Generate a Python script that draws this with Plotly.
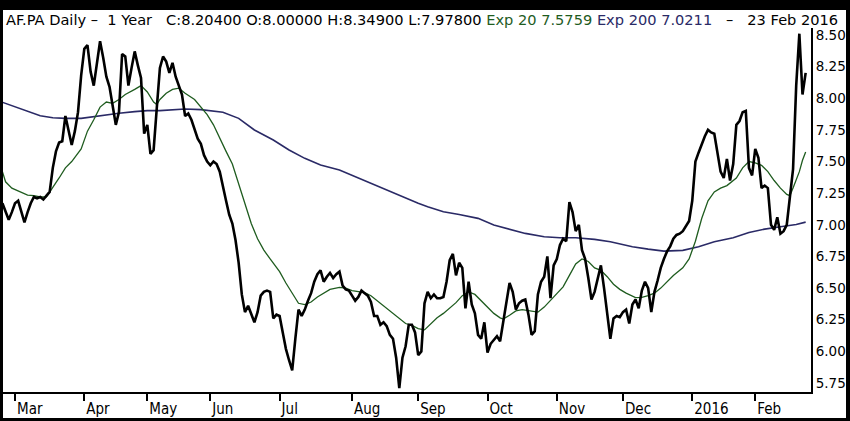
import pandas as pd
import plotly.graph_objects as go

# Euronext closing days inside the window
holidays = ["2015-04-03", "2015-04-06", "2015-05-01", "2015-12-25", "2016-01-01"]
dates = [d for d in pd.bdate_range("2015-02-24", "2016-02-23")
         if d.strftime("%Y-%m-%d") not in holidays]

close = [
    7.17, 7.10, 7.04, 7.10, 7.17, 7.19, 7.10, 7.02, 7.10, 7.17,
    7.22, 7.21, 7.22, 7.20, 7.23, 7.26, 7.45, 7.58, 7.65, 7.66,
    7.86, 7.74, 7.63, 7.74, 7.89, 8.18, 8.39, 8.42, 8.21, 8.10,
    8.26, 8.45, 8.32, 8.17, 8.09, 7.95, 7.79, 7.89, 8.35, 8.33,
    8.10, 8.24, 8.37, 8.26, 8.16, 7.72, 7.79, 7.56, 7.59, 7.92,
    8.24, 8.33, 8.29, 8.20, 8.28, 8.17, 8.10, 8.03, 7.86, 7.88,
    7.83, 7.76, 7.68, 7.64, 7.55, 7.50, 7.47, 7.50, 7.48, 7.42,
    7.29, 7.19, 7.08, 7.01, 6.88, 6.70, 6.45, 6.31, 6.36, 6.29,
    6.23, 6.31, 6.44, 6.47, 6.48, 6.47, 6.26, 6.29, 6.28, 6.15,
    6.02, 5.93, 5.85, 6.10, 6.33, 6.28, 6.33, 6.40, 6.46, 6.55,
    6.61, 6.64, 6.55, 6.59, 6.62, 6.58, 6.61, 6.63, 6.52, 6.49,
    6.48, 6.44, 6.40, 6.43, 6.48, 6.46, 6.44, 6.39, 6.28, 6.28,
    6.21, 6.23, 6.20, 6.13, 6.10, 5.95, 5.71, 5.95, 6.04, 6.21,
    6.21, 6.15, 5.97, 6.00, 6.38, 6.47, 6.42, 6.45, 6.42, 6.42,
    6.43, 6.55, 6.72, 6.77, 6.60, 6.70, 6.66, 6.34, 6.55, 6.37,
    6.30, 6.13, 6.10, 6.23, 5.99, 6.06, 6.09, 6.12, 6.08, 6.23,
    6.40, 6.54, 6.47, 6.33, 6.38, 6.40, 6.41, 6.29, 6.13, 6.16,
    6.45, 6.55, 6.59, 6.75, 6.42, 6.68, 6.73, 6.84, 6.89, 6.87,
    7.18, 7.10, 6.95, 7.00, 6.80, 6.73, 6.58, 6.41, 6.47, 6.58,
    6.68, 6.50, 6.31, 6.10, 6.26, 6.28, 6.27, 6.31, 6.33, 6.22,
    6.37, 6.41, 6.34, 6.48, 6.55, 6.50, 6.31, 6.47, 6.56, 6.66,
    6.73, 6.79, 6.83, 6.89, 6.92, 6.93, 6.95, 6.99, 7.03, 7.19,
    7.50, 7.57, 7.64, 7.70, 7.75, 7.73, 7.72, 7.58, 7.42, 7.37,
    7.52, 7.35, 7.48, 7.79, 7.82, 7.89, 7.90, 7.45, 7.39, 7.60,
    7.53, 7.29, 7.31, 7.29, 7.00, 6.96, 7.06, 6.93, 6.95, 7.00,
    7.22, 7.44, 8.10, 8.51, 8.03, 8.20,
]

# EMA readings, keyed by trading-day number
ema20_day = [0, 1, 3, 6, 8, 10, 12, 14, 16, 18, 20, 22, 25, 27, 29, 31, 33, 35, 37, 39,
             42, 44, 46, 48, 49, 50, 52, 54, 56, 58, 61, 63, 65, 67, 69, 71, 73, 75, 77, 79,
             81, 83, 85, 88, 90, 92, 94, 96, 98, 100, 102, 104, 107, 109, 111, 113, 115, 117, 119, 121,
             124, 126, 128, 130, 132, 134, 136, 138, 140, 142, 144, 146, 148, 150, 152, 154, 156, 158, 159, 161,
             163, 165, 168, 170, 172, 174, 176, 178, 180, 182, 184, 186, 188, 190, 192, 194, 196, 198, 201, 203,
             205, 207, 209, 211, 213, 216, 218, 220, 222, 224, 226, 228, 230, 233, 235, 237, 239, 241, 243, 245,
             247, 249, 250, 251, 253, 254, 255]
ema20 = [7.42, 7.34, 7.29, 7.26, 7.235, 7.23, 7.22, 7.22, 7.29, 7.37, 7.45, 7.50, 7.60, 7.74, 7.83, 7.93, 7.97, 7.96, 7.99, 8.03,
         8.07, 8.10, 8.05, 7.97, 7.95, 7.99, 8.04, 8.07, 8.08, 8.04, 7.99, 7.93, 7.87, 7.79, 7.68, 7.58, 7.48, 7.32, 7.16, 7.01,
         6.89, 6.80, 6.73, 6.63, 6.54, 6.46, 6.38, 6.37, 6.39, 6.43, 6.46, 6.49, 6.505, 6.50, 6.48, 6.47, 6.465, 6.44, 6.40, 6.355,
         6.30, 6.255, 6.22, 6.205, 6.18, 6.17, 6.22, 6.265, 6.30, 6.34, 6.385, 6.44, 6.47, 6.45, 6.40, 6.345, 6.30, 6.265, 6.255, 6.285,
         6.32, 6.33, 6.32, 6.31, 6.35, 6.405, 6.46, 6.51, 6.60, 6.69, 6.73, 6.71, 6.66, 6.64, 6.59, 6.53, 6.49, 6.46, 6.425, 6.426,
         6.44, 6.46, 6.50, 6.55, 6.60, 6.66, 6.73, 6.87, 7.05, 7.19, 7.26, 7.29, 7.31, 7.37, 7.45, 7.50, 7.49, 7.47, 7.42, 7.35,
         7.29, 7.24, 7.23, 7.29, 7.42, 7.51, 7.576]

ema200_day = [0, 4, 8, 12, 16, 20, 25, 29, 33, 37, 42, 46, 50, 54, 58, 63, 65, 70, 75, 80,
              86, 91, 96, 101, 107, 112, 117, 122, 128, 132, 135, 140, 145, 151, 156, 161, 166, 172, 177, 182,
              188, 193, 197, 200, 205, 210, 216, 221, 226, 232, 237, 242, 247, 252, 255]
ema200 = [7.968, 7.933, 7.894, 7.862, 7.846, 7.841, 7.841, 7.854, 7.873, 7.881, 7.894, 7.902, 7.902, 7.91, 7.915, 7.91, 7.905, 7.889, 7.841, 7.749,
          7.67, 7.591, 7.525, 7.472, 7.433, 7.38, 7.327, 7.27, 7.209, 7.17, 7.143, 7.103, 7.082, 7.051, 6.998, 6.966, 6.932, 6.906, 6.898, 6.898,
          6.885, 6.866, 6.845, 6.827, 6.808, 6.792, 6.798, 6.827, 6.866, 6.898, 6.94, 6.966, 6.985, 7.003, 7.021]

tick_dates = ["2015-03-02", "2015-04-01", "2015-05-04", "2015-06-01", "2015-07-01", "2015-08-03",
              "2015-09-01", "2015-10-01", "2015-11-02", "2015-12-01", "2016-01-04", "2016-02-01"]
tick_labels = ["Mar", "Apr", "May", "Jun", "Jul", "Aug", "Sep", "Oct", "Nov", "Dec", "2016", "Feb"]
price_ticks = [5.75, 6.00, 6.25, 6.50, 6.75, 7.00, 7.25, 7.50, 7.75, 8.00, 8.25, 8.50]

GREEN = "#1f5c1f"
NAVY = "#2a2a66"
W, H = 850, 421
L, R, T, B = 3, 811, 28, 392  # plot box in pixels


def px_rect(x0, y0, x1, y1):
    # black frame pieces given in pixels, turned into paper coords
    return dict(type="rect", xref="paper", yref="paper",
                x0=(x0 - L) / (R - L), x1=(x1 - L) / (R - L),
                y0=(B - y0) / (B - T), y1=(B - y1) / (B - T),
                fillcolor="black", line_width=0, layer="above")


fig = go.Figure()
fig.add_trace(go.Scatter(x=[dates[i] for i in ema200_day], y=ema200, mode="lines",
                         line=dict(color=NAVY, width=1.6), hoverinfo="skip"))
fig.add_trace(go.Scatter(x=[dates[i] for i in ema20_day], y=ema20, mode="lines",
                         line=dict(color=GREEN, width=1.3), hoverinfo="skip"))
fig.add_trace(go.Scatter(x=dates, y=close, mode="lines",
                         line=dict(color="black", width=2.6)))

nb = "\u00a0"
title = ("AF.PA Daily" + nb + "–" + nb * 2 + "1 Year" + nb * 3 +
         "C:8.20400 O:8.00000 H:8.34900 L:7.97800 " +
         f"<span style='color:{GREEN}'>Exp 20 7.5759</span> " +
         f"<span style='color:{NAVY}'>Exp 200 7.0211</span>" +
         nb * 3 + "–" + nb * 3 + "23 Feb 2016")
fig.add_annotation(text=title, xref="paper", yref="paper", x=(4 - L) / (R - L),
                   y=(B - 19) / (B - T), xanchor="left", yanchor="middle",
                   showarrow=False, font=dict(family="DejaVu Sans", size=14.6, color="black"))

fig.update_layout(
    width=W, height=H,
    margin=dict(l=L, r=W - R, t=T, b=H - B, pad=0),
    paper_bgcolor="white", plot_bgcolor="white",
    showlegend=False,
    shapes=[px_rect(0, 0, 850, 10), px_rect(0, 0, 3, 421),
            px_rect(846, 0, 850, 421), px_rect(0, 418, 850, 421)],
)
fig.update_xaxes(
    type="date",
    rangebreaks=[dict(bounds=["sat", "mon"]), dict(values=holidays)],
    range=["2015-02-24 04:30", "2016-02-24 16:48"],
    tickmode="array", tickvals=tick_dates, ticktext=tick_labels,
    ticks="outside", ticklen=7, tickwidth=2, tickcolor="black",
    ticklabelposition="outside right", ticklabelstandoff=2,
    tickfont=dict(family="DejaVu Sans Condensed, Liberation Sans Narrow, Roboto Condensed, Roboto",
                  size=15, color="black"),
    showline=True, linecolor="black", linewidth=2,
    showgrid=False, zeroline=False,
)
fig.update_yaxes(
    side="right", range=[5.679, 8.555],
    tickmode="array", tickvals=price_ticks, tickformat=".2f",
    ticks="", tickfont=dict(family="DejaVu Sans", size=13.5, color="black"),
    showline=True, linecolor="black", linewidth=2,
    showgrid=False, zeroline=False,
)

# the page body has an 8px margin by default; drop it so the figure fills the window
fig.write_html("out.html", config={"displayModeBar": False},
               post_script="document.body.style.margin='0';")
